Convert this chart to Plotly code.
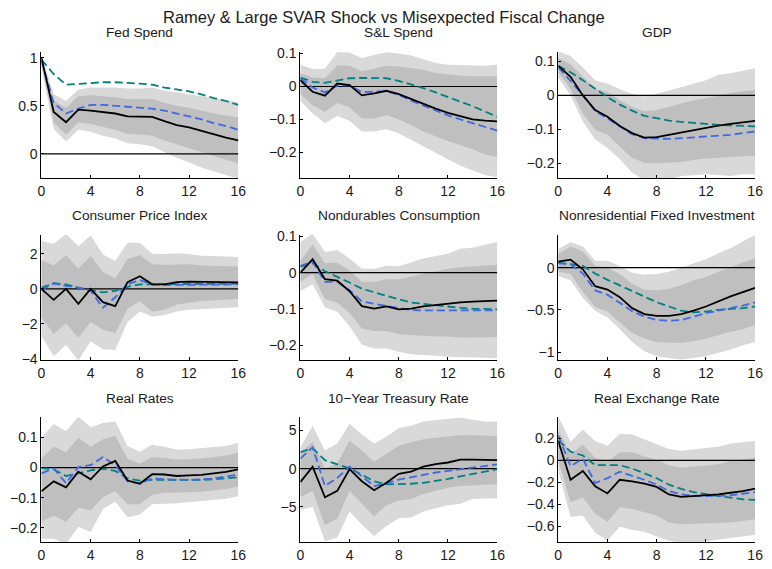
import plotly.graph_objects as go

horizon = list(range(17))

titles = ["Fed Spend", "S&L Spend", "GDP", "Consumer Price Index", "Nondurables Consumption",
          "Nonresidential Fixed Investment", "Real Rates", "10\u2212Year Treasury Rate", "Real Exchange Rate"]

# --- Fed Spend
fed_black = [1.0, 0.435, 0.33, 0.46, 0.45, 0.435, 0.42, 0.39, 0.385, 0.385, 0.34, 0.30, 0.275, 0.24, 0.20, 0.17, 0.14]
fed_teal = [0.98, 0.83, 0.72, 0.73, 0.74, 0.745, 0.745, 0.74, 0.73, 0.72, 0.69, 0.67, 0.65, 0.62, 0.58, 0.55, 0.51]
fed_blue = [0.97, 0.53, 0.42, 0.47, 0.51, 0.51, 0.50, 0.49, 0.48, 0.47, 0.45, 0.42, 0.39, 0.36, 0.32, 0.29, 0.25]
fed_out_hi = [1.03, 0.62, 0.55, 0.67, 0.69, 0.69, 0.69, 0.68, 0.68, 0.69, 0.66, 0.64, 0.62, 0.60, 0.58, 0.56, 0.54]
fed_in_hi = [1.01, 0.55, 0.48, 0.60, 0.61, 0.60, 0.59, 0.57, 0.57, 0.57, 0.53, 0.50, 0.48, 0.45, 0.42, 0.40, 0.38]
fed_in_lo = [0.94, 0.33, 0.20, 0.33, 0.31, 0.28, 0.25, 0.21, 0.20, 0.19, 0.14, 0.10, 0.06, 0.02, -0.02, -0.06, -0.10]
fed_out_lo = [0.90, 0.26, 0.13, 0.25, 0.23, 0.19, 0.16, 0.11, 0.10, 0.08, 0.02, -0.04, -0.09, -0.14, -0.18, -0.22, -0.26]

# --- S&L Spend
sl_black = [0.019, -0.016, -0.028, 0.009, 0.004, -0.027, -0.021, -0.013, -0.023, -0.038, -0.052, -0.067, -0.080, -0.090, -0.100, -0.104, -0.106]
sl_teal = [0.027, 0.014, 0.011, 0.019, 0.025, 0.026, 0.026, 0.025, 0.017, 0.007, -0.005, -0.018, -0.033, -0.046, -0.060, -0.077, -0.092]
sl_blue = [0.025, -0.003, -0.018, 0.002, 0.004, -0.018, -0.015, -0.015, -0.025, -0.043, -0.058, -0.073, -0.088, -0.100, -0.112, -0.124, -0.134]
sl_out_hi = [0.066, 0.053, 0.054, 0.104, 0.103, 0.086, 0.096, 0.104, 0.100, 0.094, 0.083, 0.071, 0.066, 0.065, 0.063, 0.063, 0.066]
sl_in_hi = [0.040, 0.027, 0.025, 0.064, 0.063, 0.046, 0.054, 0.063, 0.061, 0.056, 0.051, 0.041, 0.036, 0.033, 0.031, 0.031, 0.031]
sl_in_lo = [-0.023, -0.057, -0.077, -0.050, -0.064, -0.097, -0.097, -0.087, -0.100, -0.117, -0.137, -0.151, -0.166, -0.179, -0.191, -0.206, -0.214]
sl_out_lo = [-0.043, -0.082, -0.112, -0.090, -0.104, -0.137, -0.137, -0.130, -0.142, -0.162, -0.182, -0.202, -0.221, -0.241, -0.256, -0.269, -0.276]

# --- GDP
gdp_black = [0.087, 0.055, 0.0, -0.043, -0.063, -0.090, -0.111, -0.124, -0.123, -0.116, -0.109, -0.101, -0.095, -0.089, -0.084, -0.080, -0.075]
gdp_teal = [0.087, 0.068, 0.045, 0.019, -0.005, -0.027, -0.045, -0.060, -0.068, -0.074, -0.078, -0.082, -0.084, -0.087, -0.089, -0.090, -0.091]
gdp_blue = [0.082, 0.043, 0.0, -0.045, -0.068, -0.092, -0.114, -0.126, -0.128, -0.128, -0.126, -0.124, -0.121, -0.118, -0.116, -0.111, -0.106]
gdp_out_hi = [0.13, 0.116, 0.082, 0.045, 0.034, 0.018, 0.005, -0.003, 0.005, 0.014, 0.024, 0.034, 0.045, 0.061, 0.065, 0.072, 0.080]
gdp_in_hi = [0.111, 0.092, 0.055, 0.019, 0.010, -0.014, -0.034, -0.046, -0.043, -0.034, -0.024, -0.014, -0.008, 0.0, 0.007, 0.012, 0.016]
gdp_in_lo = [0.068, 0.019, -0.053, -0.101, -0.116, -0.150, -0.184, -0.198, -0.200, -0.198, -0.196, -0.190, -0.186, -0.182, -0.181, -0.179, -0.177]
gdp_out_lo = [0.053, 0.0, -0.077, -0.130, -0.155, -0.188, -0.227, -0.250, -0.250, -0.248, -0.237, -0.235, -0.232, -0.235, -0.237, -0.232, -0.232]

# --- Consumer Price Index
cpi_black = [0.0, -0.63, 0.0, -0.86, 0.0, -0.76, -0.99, 0.39, 0.72, 0.26, 0.26, 0.39, 0.41, 0.41, 0.41, 0.39, 0.37]
cpi_teal = [0.07, 0.32, 0.26, 0.07, -0.07, -0.20, -0.11, 0.11, 0.26, 0.26, 0.26, 0.26, 0.30, 0.30, 0.30, 0.30, 0.30]
cpi_blue = [-0.07, 0.32, 0.17, 0.07, -0.11, -1.08, -0.48, 0.26, 0.50, 0.26, 0.22, 0.22, 0.26, 0.26, 0.26, 0.26, 0.26]
cpi_out_hi = [2.73, 2.58, 3.14, 2.43, 3.05, 1.97, 1.60, 2.64, 2.64, 2.01, 1.99, 2.03, 1.99, 1.90, 1.88, 1.86, 1.82]
cpi_in_hi = [1.65, 1.34, 1.93, 1.15, 1.90, 0.97, 0.59, 1.71, 1.93, 1.41, 1.38, 1.41, 1.41, 1.34, 1.32, 1.30, 1.28]
cpi_in_lo = [-1.64, -2.58, -1.97, -2.81, -1.88, -2.34, -2.53, -1.13, -0.71, -1.30, -1.20, -0.90, -0.80, -0.70, -0.65, -0.60, -0.58]
cpi_out_lo = [-2.70, -3.85, -3.20, -4.10, -3.00, -3.45, -3.50, -1.90, -1.30, -1.60, -1.50, -1.30, -1.20, -1.15, -1.10, -1.08, -1.05]

# --- Nondurables Consumption
nd_black = [0.0, 0.037, -0.018, -0.022, -0.051, -0.092, -0.099, -0.093, -0.101, -0.099, -0.093, -0.089, -0.086, -0.082, -0.080, -0.079, -0.077]
nd_teal = [0.017, 0.026, 0.004, -0.011, -0.027, -0.044, -0.055, -0.064, -0.073, -0.082, -0.086, -0.090, -0.094, -0.097, -0.099, -0.100, -0.101]
nd_blue = [0.019, 0.030, -0.025, -0.025, -0.048, -0.079, -0.086, -0.092, -0.099, -0.103, -0.104, -0.104, -0.104, -0.104, -0.104, -0.104, -0.104]
nd_out_hi = [0.085, 0.107, 0.057, 0.063, 0.039, 0.011, 0.011, 0.019, 0.018, 0.028, 0.039, 0.046, 0.052, 0.066, 0.069, 0.077, 0.085]
nd_in_hi = [0.033, 0.078, 0.026, 0.028, 0.006, -0.025, -0.025, -0.018, -0.018, -0.011, -0.003, 0.004, 0.011, 0.015, 0.018, 0.019, 0.022]
nd_in_lo = [-0.025, -0.003, -0.073, -0.082, -0.111, -0.154, -0.161, -0.161, -0.170, -0.174, -0.174, -0.176, -0.176, -0.179, -0.179, -0.179, -0.177]
nd_out_lo = [-0.051, -0.031, -0.095, -0.108, -0.148, -0.199, -0.209, -0.209, -0.218, -0.225, -0.227, -0.230, -0.231, -0.233, -0.233, -0.234, -0.236]

# --- Nonresidential Fixed Investment
nfi_black = [0.07, 0.095, -0.02, -0.22, -0.26, -0.35, -0.48, -0.55, -0.57, -0.57, -0.55, -0.51, -0.46, -0.40, -0.34, -0.29, -0.24]
nfi_teal = [0.06, 0.04, 0.02, -0.07, -0.145, -0.21, -0.275, -0.34, -0.41, -0.46, -0.51, -0.53, -0.52, -0.50, -0.49, -0.48, -0.46]
nfi_blue = [0.05, 0.04, -0.07, -0.27, -0.32, -0.42, -0.515, -0.58, -0.62, -0.63, -0.62, -0.58, -0.54, -0.51, -0.48, -0.45, -0.41]
nfi_out_hi = [0.22, 0.30, 0.25, 0.08, 0.08, 0.02, -0.06, -0.085, -0.075, -0.05, 0.0, 0.05, 0.10, 0.17, 0.23, 0.31, 0.39]
nfi_in_hi = [0.16, 0.25, 0.19, 0.02, 0.0, -0.075, -0.19, -0.26, -0.27, -0.25, -0.21, -0.15, -0.11, -0.05, 0.0, 0.06, 0.11]
nfi_in_lo = [-0.05, -0.075, -0.29, -0.47, -0.52, -0.65, -0.77, -0.84, -0.88, -0.89, -0.89, -0.87, -0.84, -0.80, -0.76, -0.73, -0.68]
nfi_out_lo = [-0.10, -0.15, -0.36, -0.51, -0.59, -0.73, -0.88, -0.99, -1.05, -1.07, -1.09, -1.07, -1.05, -1.01, -0.97, -0.92, -0.88]

# --- Real Rates
rr_black = [-0.079, -0.046, -0.066, -0.014, -0.039, 0.004, 0.022, -0.043, -0.054, -0.022, -0.023, -0.028, -0.026, -0.024, -0.019, -0.014, -0.006]
rr_teal = [-0.002, -0.006, -0.028, -0.019, -0.009, -0.004, -0.011, -0.036, -0.043, -0.041, -0.041, -0.043, -0.043, -0.041, -0.039, -0.036, -0.032]
rr_blue = [-0.019, -0.003, -0.052, 0.002, 0.008, 0.035, 0.008, -0.046, -0.052, -0.036, -0.039, -0.041, -0.041, -0.039, -0.036, -0.030, -0.023]
rr_out_hi = [0.099, 0.145, 0.121, 0.170, 0.134, 0.148, 0.153, 0.072, 0.053, 0.076, 0.069, 0.060, 0.061, 0.064, 0.067, 0.072, 0.083]
rr_in_hi = [0.029, 0.069, 0.051, 0.099, 0.069, 0.094, 0.105, 0.029, 0.013, 0.035, 0.032, 0.027, 0.028, 0.030, 0.035, 0.040, 0.049]
rr_in_lo = [-0.179, -0.160, -0.181, -0.133, -0.143, -0.098, -0.079, -0.122, -0.122, -0.090, -0.084, -0.084, -0.082, -0.080, -0.076, -0.071, -0.063]
rr_out_lo = [-0.237, -0.237, -0.255, -0.197, -0.214, -0.138, -0.114, -0.165, -0.156, -0.122, -0.120, -0.119, -0.117, -0.113, -0.108, -0.104, -0.095]

# --- 10-Year Treasury Rate
ty_black = [-1.77, 0.25, -3.76, -2.91, -0.08, -1.65, -2.83, -1.86, -0.68, -0.38, 0.25, 0.59, 0.80, 1.18, 1.18, 1.10, 1.10]
ty_teal = [2.15, 2.66, 1.10, 0.59, 0.04, -0.80, -1.65, -2.07, -2.07, -1.98, -1.86, -1.65, -1.35, -1.01, -0.72, -0.38, -0.08]
ty_blue = [1.31, 2.79, -2.28, -1.22, 0.25, -1.01, -2.28, -1.94, -1.43, -1.14, -0.80, -0.51, -0.30, -0.08, 0.13, 0.34, 0.55]
ty_out_hi = [2.79, 5.60, 2.36, 3.29, 5.86, 4.47, 3.29, 4.18, 5.32, 5.60, 6.16, 6.37, 6.50, 6.70, 6.40, 6.16, 6.16]
ty_in_hi = [2.03, 3.50, 0.04, 0.68, 3.63, 2.36, 0.89, 1.94, 3.00, 3.42, 3.84, 4.05, 4.18, 4.35, 4.35, 4.26, 4.26]
ty_in_lo = [-3.76, -2.91, -7.40, -6.57, -2.91, -4.60, -6.27, -4.80, -4.18, -3.97, -3.33, -2.91, -2.49, -2.28, -2.20, -2.07, -2.07]
ty_out_lo = [-5.40, -5.00, -9.50, -9.00, -5.60, -7.30, -8.80, -7.50, -6.50, -6.40, -5.60, -5.20, -4.80, -4.60, -3.97, -3.90, -3.90]

# --- Real Exchange Rate
rer_black = [0.176, -0.176, -0.097, -0.235, -0.300, -0.176, -0.191, -0.212, -0.241, -0.309, -0.332, -0.324, -0.318, -0.309, -0.294, -0.279, -0.256]
rer_teal = [0.182, 0.079, 0.044, -0.044, -0.044, -0.044, -0.074, -0.118, -0.162, -0.221, -0.259, -0.288, -0.309, -0.324, -0.338, -0.353, -0.359]
rer_blue = [0.226, -0.053, 0.015, -0.206, -0.162, -0.103, -0.141, -0.176, -0.221, -0.279, -0.309, -0.324, -0.324, -0.324, -0.318, -0.303, -0.288]
rer_out_hi = [0.40, 0.168, 0.279, 0.176, 0.132, 0.241, 0.235, 0.191, 0.147, 0.103, 0.088, 0.103, 0.112, 0.124, 0.153, 0.165, 0.176]
rer_in_hi = [0.279, 0.059, 0.141, 0.024, -0.015, 0.074, 0.074, 0.035, 0.006, -0.044, -0.068, -0.059, -0.050, -0.035, -0.006, 0.006, 0.024]
rer_in_lo = [0.0, -0.380, -0.338, -0.485, -0.559, -0.426, -0.441, -0.470, -0.500, -0.565, -0.580, -0.574, -0.574, -0.568, -0.565, -0.553, -0.535]
rer_out_lo = [-0.088, -0.515, -0.500, -0.656, -0.727, -0.603, -0.632, -0.647, -0.691, -0.730, -0.750, -0.750, -0.735, -0.721, -0.706, -0.691, -0.676]

y_ranges = [[-0.25, 1.06], [-0.278, 0.105], [-0.243, 0.128],
            [-4.05, 3.1], [-0.24, 0.105], [-1.09, 0.39],
            [-0.249, 0.167], [-9.66, 6.7], [-0.745, 0.39]]
y_ticks = [[0, 0.5, 1], [-0.2, -0.1, 0, 0.1], [-0.2, -0.1, 0, 0.1],
           [-4, -2, 0, 2], [-0.2, -0.1, 0, 0.1], [-1, -0.5, 0],
           [-0.2, -0.1, 0, 0.1], [-5, 0, 5], [-0.6, -0.4, -0.2, 0, 0.2]]
x_ticks = [0, 4, 8, 12, 16]

panels = [
    (fed_black, fed_teal, fed_blue, fed_out_hi, fed_in_hi, fed_in_lo, fed_out_lo),
    (sl_black, sl_teal, sl_blue, sl_out_hi, sl_in_hi, sl_in_lo, sl_out_lo),
    (gdp_black, gdp_teal, gdp_blue, gdp_out_hi, gdp_in_hi, gdp_in_lo, gdp_out_lo),
    (cpi_black, cpi_teal, cpi_blue, cpi_out_hi, cpi_in_hi, cpi_in_lo, cpi_out_lo),
    (nd_black, nd_teal, nd_blue, nd_out_hi, nd_in_hi, nd_in_lo, nd_out_lo),
    (nfi_black, nfi_teal, nfi_blue, nfi_out_hi, nfi_in_hi, nfi_in_lo, nfi_out_lo),
    (rr_black, rr_teal, rr_blue, rr_out_hi, rr_in_hi, rr_in_lo, rr_out_lo),
    (ty_black, ty_teal, ty_blue, ty_out_hi, ty_in_hi, ty_in_lo, ty_out_lo),
    (rer_black, rer_teal, rer_blue, rer_out_hi, rer_in_hi, rer_in_lo, rer_out_lo),
]

W, H = 772, 569
col_px = [(38, 238), (301, 501), (563, 763)]
row_px = [(47, 176), (234, 362), (421, 549)]

OUTER = "#d9d9d9"
INNER = "#bfbfbf"
TEAL = "#008080"
BLUE = "#4169e1"
TXT = "#1a1a1a"
FONT = "Liberation Sans, Arial, sans-serif"

fig = go.Figure()
layout = {}
annotations = []

for i, (blk, teal, blue, ohi, ihi, ilo, olo) in enumerate(panels):
    r, c = divmod(i, 3)
    xa = "x" if i == 0 else f"x{i+1}"
    ya = "y" if i == 0 else f"y{i+1}"
    xkey = "xaxis" if i == 0 else f"xaxis{i+1}"
    ykey = "yaxis" if i == 0 else f"yaxis{i+1}"
    x0, x1 = col_px[c]
    t0, b0 = row_px[r]
    rev_h = horizon[::-1]
    fig.add_trace(go.Scatter(x=horizon + rev_h, y=list(ohi) + list(olo)[::-1], fill="toself",
                             fillcolor=OUTER, line=dict(width=0), mode="lines",
                             hoverinfo="skip", showlegend=False, xaxis=xa, yaxis=ya))
    fig.add_trace(go.Scatter(x=horizon + rev_h, y=list(ihi) + list(ilo)[::-1], fill="toself",
                             fillcolor=INNER, line=dict(width=0), mode="lines",
                             hoverinfo="skip", showlegend=False, xaxis=xa, yaxis=ya))
    fig.add_trace(go.Scatter(x=[horizon[0], horizon[-1]], y=[0, 0], mode="lines",
                             line=dict(color="black", width=1.2), showlegend=False,
                             hoverinfo="skip", xaxis=xa, yaxis=ya))
    fig.add_trace(go.Scatter(x=horizon, y=teal, mode="lines",
                             line=dict(color=TEAL, width=1.8, dash="8px,4px"),
                             showlegend=False, xaxis=xa, yaxis=ya))
    fig.add_trace(go.Scatter(x=horizon, y=blue, mode="lines",
                             line=dict(color=BLUE, width=1.8, dash="8px,4px"),
                             showlegend=False, xaxis=xa, yaxis=ya))
    fig.add_trace(go.Scatter(x=horizon, y=blk, mode="lines",
                             line=dict(color="black", width=1.8),
                             showlegend=False, xaxis=xa, yaxis=ya))
    layout[xkey] = dict(domain=[x0 / W, x1 / W], anchor=ya, range=[0, 16], tickvals=x_ticks,
                        showgrid=False, zeroline=False, showline=True, linecolor="black",
                        linewidth=1, ticks="inside", ticklen=3, tickcolor="black",
                        tickfont=dict(size=14, color=TXT, family=FONT))
    layout[ykey] = dict(domain=[1 - b0 / H, 1 - t0 / H], anchor=xa, range=y_ranges[i],
                        tickvals=y_ticks[i], showgrid=False, zeroline=False, showline=True,
                        linecolor="black", linewidth=1, ticks="inside", ticklen=3,
                        tickcolor="black", tickfont=dict(size=14, color=TXT, family=FONT))
    annotations.append(dict(text=titles[i], x=(x0 + x1) / 2 / W, y=1 - (t0 - 10) / H,
                            xref="paper", yref="paper", xanchor="center", yanchor="bottom",
                            showarrow=False, font=dict(size=13.7, color=TXT, family=FONT)))

annotations.append(dict(text="Ramey & Large SVAR Shock vs Misexpected Fiscal Change",
                        x=0.5, y=1 - 23 / H, xref="paper", yref="paper", xanchor="center",
                        yanchor="bottom", showarrow=False,
                        font=dict(size=16.5, color=TXT, family=FONT)))

fig.update_layout(width=W, height=H, margin=dict(l=0, r=0, t=0, b=0),
                  paper_bgcolor="white", plot_bgcolor="white",
                  annotations=annotations, font=dict(family=FONT), **layout)

fig.write_html("out.html")
